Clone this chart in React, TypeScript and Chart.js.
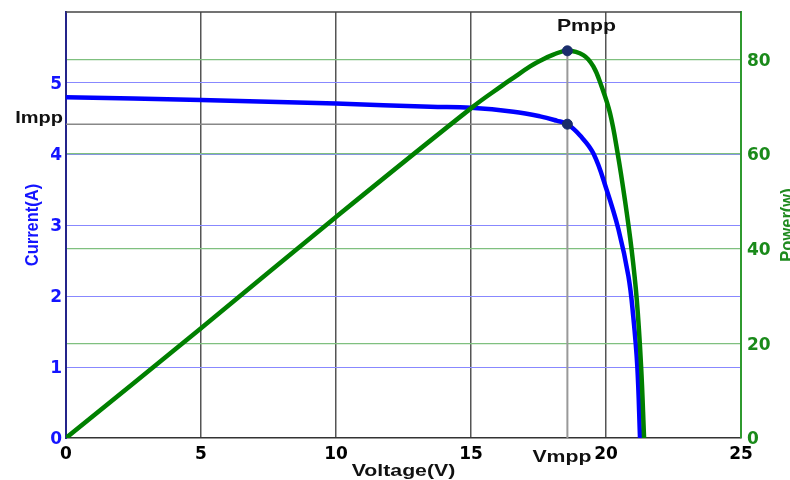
import React, { useEffect, useRef } from 'react';
import { Chart, registerables } from 'chart.js';

Chart.register(...registerables);

// I-V curve (Voltage V -> Current A)
const ivVoltage = [0, 5, 10, 13.5, 15, 16.57, 17.56, 18.17, 18.57, 19.04, 19.53, 20.02, 20.46, 20.83, 21.01, 21.16, 21.26];
const ivCurrent = [4.8, 4.76, 4.71, 4.665, 4.65, 4.595, 4.53, 4.47, 4.42, 4.26, 4.01, 3.5, 2.94, 2.28, 1.71, 1.01, 0];

// P-V curve (Voltage V -> Power W)
const pvVoltage = [0, 5, 10, 15.03, 16.14, 16.57, 17.19, 17.56, 18.05, 18.57, 19.16, 19.53, 19.84, 20.15, 20.43, 20.7, 20.95, 21.14, 21.3, 21.41];
const pvPower = [0, 23.2, 46.7, 69.8, 74.4, 76.1, 78.5, 79.7, 81.0, 81.8, 80.9, 78.5, 74.2, 68.6, 60.2, 50.3, 39.7, 29.2, 15.1, 0];

// maximum power point
const VMPP = 18.57;
const IMPP = 4.42;
const PMPP = 81.8;

// axes
const voltageTicks = [0, 5, 10, 15, 20, 25];
const currentTicks = [0, 1, 2, 3, 4, 5];
const powerTicks = [0, 20, 40, 60, 80];
const voltageRange = [0, 25];
const currentRange = [0, 6];
const powerRange = [0, 90];

const BLUE = '#0000ff';
const GREEN = '#008000';

const labelPlugin = {
  id: 'pvLabels',
  beforeDatasetsDraw(chart: any) {
    const { ctx, chartArea } = chart;
    ctx.save();
    ctx.strokeStyle = '#444';
    ctx.lineWidth = 1.5;
    ctx.beginPath();
    ctx.moveTo(chartArea.left, chartArea.top);
    ctx.lineTo(chartArea.right, chartArea.top);
    ctx.stroke();
    ctx.restore();
  },
  afterDraw(chart: any) {
    const { ctx, chartArea, scales } = chart;
    const xs = scales.x;
    const yI = scales.yI;
    const yP = scales.yP;
    const txt = (s: string, x: number, y: number, color: string, size: number, sx: number, align: CanvasTextAlign, rot = 0) => {
      ctx.save();
      ctx.translate(x, y);
      if (rot) ctx.rotate(rot);
      if (rot) ctx.scale(1, sx); else ctx.scale(sx, 1);
      ctx.font = `bold ${size}px "Liberation Sans", Arial, sans-serif`;
      ctx.fillStyle = color;
      ctx.textAlign = align;
      ctx.textBaseline = 'alphabetic';
      ctx.fillText(s, 0, 0);
      ctx.restore();
    };
    const vx = xs.getPixelForValue(VMPP);
    const iy = yI.getPixelForValue(IMPP);
    const py = yP.getPixelForValue(PMPP);
    const midY = (chartArea.top + chartArea.bottom) / 2;
    txt('Impp', chartArea.left - 3, iy - 1, '#111', 16, 1.25, 'right');
    txt('Pmpp', vx + 19, py - 19.5, '#111', 17, 1.25, 'center');
    txt('Vmpp', vx - 5.5, chartArea.bottom + 24, '#111', 17, 1.25, 'center');
    txt('Voltage(V)', (chartArea.left + chartArea.right) / 2, chartArea.bottom + 38, '#111', 17, 1.25, 'center');
    txt('Current(A)', 37.5, midY, '#1414ff', 16.5, 1.15, 'center', -Math.PI / 2);
    txt('Power(w)', 792.5, midY, '#1f8a1f', 16.5, 1.15, 'center', -Math.PI / 2);
  },
};

export default function App() {
  const ref = useRef<HTMLCanvasElement | null>(null);

  useEffect(() => {
    if (!ref.current) return;
    const tickFont = { family: '"DejaVu Sans", sans-serif', size: 17, weight: 'bold' as const };
    const noPad = (s: any, w: number) => { s.width = w; s.paddingTop = 0; s.paddingBottom = 0; };
    const chart = new Chart(ref.current, {
      type: 'line',
      data: {
        datasets: [
          {
            label: 'Pmpp',
            data: [{ x: VMPP, y: PMPP }],
            yAxisID: 'yP',
            showLine: false,
            pointRadius: 5,
            pointBackgroundColor: '#1a2d6b',
            pointBorderColor: '#1a2d6b',
            order: 0,
          },
          {
            label: 'Impp point',
            data: [{ x: VMPP, y: IMPP }],
            yAxisID: 'yI',
            showLine: false,
            pointRadius: 5,
            pointBackgroundColor: '#1a2d6b',
            pointBorderColor: '#1a2d6b',
            order: 0,
          },
          {
            label: 'Power',
            data: pvVoltage.map((v, i) => ({ x: v, y: pvPower[i] })),
            yAxisID: 'yP',
            borderColor: GREEN,
            borderWidth: 4.5,
            pointRadius: 0,
            tension: 0.4,
            order: 1,
          },
          {
            label: 'Current',
            data: ivVoltage.map((v, i) => ({ x: v, y: ivCurrent[i] })),
            yAxisID: 'yI',
            borderColor: BLUE,
            borderWidth: 4.5,
            pointRadius: 0,
            tension: 0.4,
            order: 2,
          },
          {
            label: 'Vmpp line',
            data: [{ x: VMPP, y: 0 }, { x: VMPP, y: PMPP }],
            yAxisID: 'yP',
            borderColor: '#999',
            borderWidth: 2,
            pointRadius: 0,
            order: 5,
          },
          {
            label: 'Impp line',
            data: [{ x: voltageRange[0], y: IMPP }, { x: VMPP, y: IMPP }],
            yAxisID: 'yI',
            borderColor: '#888',
            borderWidth: 1.5,
            pointRadius: 0,
            order: 5,
          },
        ],
      },
      options: {
        responsive: false,
        animation: false,
        layout: { padding: { top: 12, left: 0, right: 0, bottom: 0 } },
        plugins: { legend: { display: false }, tooltip: { enabled: false } },
        scales: {
          x: {
            type: 'linear',
            position: 'bottom',
            min: voltageRange[0],
            max: voltageRange[1],
            afterBuildTicks: (s: any) => { s.ticks = voltageTicks.map((v) => ({ value: v })); },
            afterFit: (s: any) => { s.height = 42; s.paddingLeft = 0; s.paddingRight = 0; },
            ticks: { color: '#000', font: tickFont, padding: 6, maxRotation: 0, autoSkip: false },
            grid: {
              drawTicks: false,
              color: (c: any) => (c.tick && (c.tick.value === 0 || c.tick.value === 25) ? 'rgba(0,0,0,0)' : '#555'),
              lineWidth: 1.5,
            },
            border: { color: '#333', width: 1.5 },
          },
          yI: {
            type: 'linear',
            position: 'left',
            min: currentRange[0],
            max: currentRange[1],
            afterBuildTicks: (s: any) => { s.ticks = currentTicks.map((v) => ({ value: v })); },
            afterFit: (s: any) => noPad(s, 66),
            ticks: { color: '#1414ff', font: tickFont, padding: 4, labelOffset: 2 },
            grid: {
              drawTicks: false,
              color: (c: any) => (c.tick && c.tick.value === 0 ? 'rgba(0,0,0,0)' : '#8888ff'),
              lineWidth: 1,
            },
            border: { color: '#24248a', width: 2 },
          },
          yP: {
            type: 'linear',
            position: 'right',
            min: powerRange[0],
            max: powerRange[1],
            afterBuildTicks: (s: any) => { s.ticks = powerTicks.map((v) => ({ value: v })); },
            afterFit: (s: any) => noPad(s, 49),
            ticks: { color: '#1a8a1a', font: tickFont, padding: 6, labelOffset: 2 },
            grid: {
              drawTicks: false,
              color: (c: any) => (c.tick && c.tick.value === 0 ? 'rgba(0,0,0,0)' : '#7fc07f'),
              lineWidth: 1.2,
            },
            border: { color: '#2f9a2f', width: 2 },
          },
        },
      },
      plugins: [labelPlugin],
    } as any);
    return () => chart.destroy();
  }, []);

  return (
    <div style={{ position: 'fixed', left: 0, top: 0, width: 790, height: 480, background: '#fff' }}>
      <canvas ref={ref} width={790} height={480} style={{ display: 'block' }} />
    </div>
  );
}
